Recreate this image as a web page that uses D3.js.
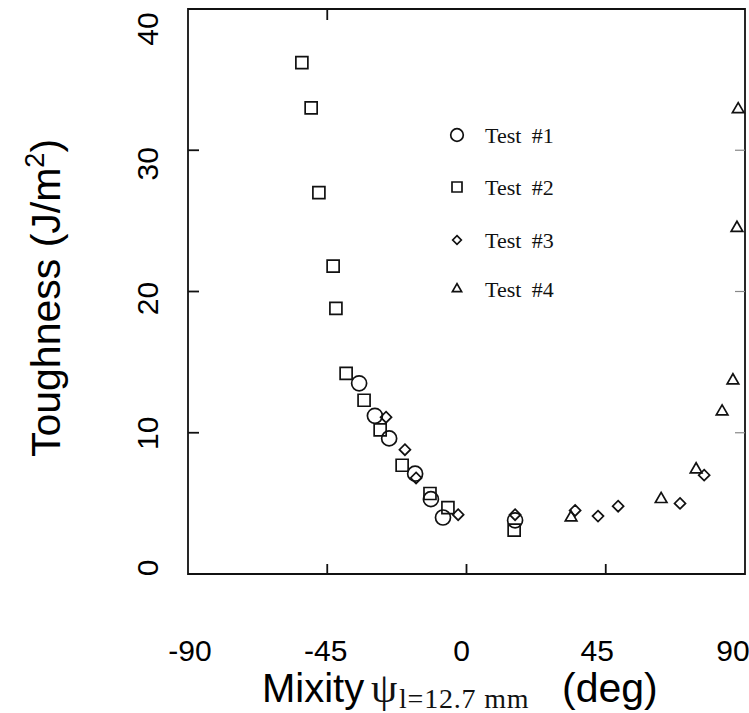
<!DOCTYPE html>
<html lang="en">
<head>
	<meta charset="utf-8">
	<title>Toughness vs mixity</title>
	<script src="https://d3js.org/d3.v7.min.js"></script>
	<style>
		body { margin: 0; background: #fff; }
		.mark { fill: none; stroke: #111; stroke-width: 1.7; }
		.sans { font-family: "Liberation Sans", Arial, sans-serif; fill: #000; }
		.serif { font-family: "Liberation Serif", "Times New Roman", serif; fill: #111; }
	</style>
</head>
<body>
	<script>
		var width = 749;
		var height = 713;

		// values
		var xTicks = [-90, -45, 0, 45, 90];
		var yTicks = [0, 10, 20, 30, 40];
		var testNames = ["Test #1", "Test #2", "Test #3", "Test #4"];
		var testShapes = ["circle", "square", "diamond", "triangle"];

		var test1X = [-34.7, -29.6, -25.0, -16.6, -11.5, -7.6, 15.7];
		var test1Y = [13.5, 11.2, 9.6, 7.1, 5.3, 4.0, 3.8];

		var test2X = [-53.2, -50.2, -47.7, -43.1, -42.2, -38.9, -33.1, -27.9, -20.8, -11.8, -6.0, 15.4];
		var test2Y = [36.2, 33.0, 27.0, 21.8, 18.8, 14.2, 12.3, 10.2, 7.7, 5.7, 4.7, 3.1];

		var test3X = [-26.0, -19.9, -16.3, -2.7, 15.7, 35.1, 42.5, 49.0, 69.0, 76.8];
		var test3Y = [11.1, 8.8, 6.8, 4.2, 4.2, 4.5, 4.1, 4.8, 5.0, 7.0];

		var test4X = [33.8, 62.9, 74.2, 82.6, 86.1, 87.4, 87.8];
		var test4Y = [4.0, 5.3, 7.4, 11.5, 13.7, 24.5, 32.9];

		var series = [
			{ x: test1X, y: test1Y, shape: testShapes[0] },
			{ x: test2X, y: test2Y, shape: testShapes[1] },
			{ x: test3X, y: test3Y, shape: testShapes[2] },
			{ x: test4X, y: test4Y, shape: testShapes[3] }
		];

		var svg = d3.select("body")
			.append("svg")
			.attr("width", width)
			.attr("height", height);

		// scales of the scanned plot frame
		var x = d3.scaleLinear().domain([-90, 90]).range([188, 745]);
		var y = d3.scaleLinear().domain([0, 40]).range([574, 9]);

		// the tick labels were typed on afterwards and sit a little off the frame
		var xLab = d3.scaleLinear().domain([-90, 90]).range([190, 733]);
		var yLab = d3.scaleLinear().domain([0, 40]).range([568, 29]);

		// frame
		var frame = svg.append("g")
			.attr("stroke", "#111")
			.attr("stroke-width", 1.8)
			.attr("fill", "none");
		frame.append("path")
			.attr("d", "M" + x(-90) + "," + y(40) + "H" + x(90) + "V" + y(0) + "H" + x(-90) + "Z");

		// inner ticks
		var inner = [10, 20, 30];
		frame.selectAll(".lt").data(inner).enter().append("line")
			.attr("x1", x(-90)).attr("x2", x(-90) + 11)
			.attr("y1", d => y(d)).attr("y2", d => y(d));
		frame.selectAll(".rt").data(inner).enter().append("line")
			.attr("stroke", "#888").attr("stroke-width", 1.2)
			.attr("x1", x(90)).attr("x2", x(90) - 10)
			.attr("y1", d => y(d)).attr("y2", d => y(d));
		frame.selectAll(".bt").data([-45, 0, 45]).enter().append("line")
			.attr("x1", d => x(d)).attr("x2", d => x(d))
			.attr("y1", y(0)).attr("y2", y(0) - 10);
		frame.selectAll(".tt").data([-45]).enter().append("line")
			.attr("x1", d => x(d)).attr("x2", d => x(d))
			.attr("y1", y(40)).attr("y2", y(40) + 11);

		// marker paths
		function shapePath(shape, s) {
			if (shape == "circle") return d3.symbol(d3.symbolCircle, Math.PI * s * s)();
			if (shape == "square") return d3.symbol(d3.symbolSquare, (2 * s) * (2 * s))();
			if (shape == "diamond") return "M0," + (-s) + "L" + s + ",0L0," + s + "L" + (-s) + ",0Z";
			var h = s * Math.sqrt(3);
			return "M0," + (-h * 2 / 3) + "L" + s + "," + (h / 3) + "L" + (-s) + "," + (h / 3) + "Z";
		}
		var markSize = { circle: 7.5, square: 6, diamond: 5.5, triangle: 5.8 };
		var legSize = { circle: 6.3, square: 5, diamond: 4.3, triangle: 4.6 };

		series.forEach(function (s) {
			svg.append("g").selectAll("path")
				.data(s.x.map((v, i) => [v, s.y[i]]))
				.enter()
				.append("path")
				.attr("class", "mark")
				.attr("transform", d => "translate(" + x(d[0]) + "," + y(d[1]) + ")")
				.attr("d", shapePath(s.shape, markSize[s.shape]));
		});

		// legend
		var legend = svg.append("g").attr("transform", "translate(457,135)");
		var rows = legend.selectAll("g").data(testNames).enter().append("g")
			.attr("transform", (d, i) => "translate(0," + [0, 52, 105, 154][i] + ")");
		rows.append("path")
			.attr("class", "mark")
			.attr("stroke-width", 1.4)
			.attr("d", (d, i) => shapePath(testShapes[i], legSize[testShapes[i]]));
		rows.append("text")
			.attr("class", "serif")
			.attr("x", 28).attr("y", 8)
			.attr("font-size", 22)
			.attr("word-spacing", 5)
			.text(d => d);

		// tick labels
		svg.append("g").selectAll("text").data(xTicks).enter().append("text")
			.attr("class", "sans")
			.attr("x", d => xLab(d)).attr("y", 661)
			.attr("text-anchor", "middle")
			.attr("font-size", 30)
			.text(d => d);
		svg.append("g").selectAll("text").data(yTicks).enter().append("text")
			.attr("class", "sans")
			.attr("transform", d => "translate(158," + yLab(d) + ") rotate(-90)")
			.attr("text-anchor", "middle")
			.attr("font-size", 30)
			.text(d => d);

		// axis titles
		var yt = svg.append("text")
			.attr("class", "sans")
			.attr("transform", "translate(60,298) rotate(-90)")
			.attr("text-anchor", "middle")
			.attr("font-size", 41);
		yt.append("tspan").text("Toughness (J/m");
		yt.append("tspan").attr("font-size", 27).attr("dy", -16).text("2");
		yt.append("tspan").attr("dy", 16).text(")");

		var xt = svg.append("text").attr("y", 702);
		xt.append("tspan").attr("class", "sans").attr("x", 262).attr("font-size", 40).text("Mixity");
		xt.append("tspan").attr("class", "serif").attr("x", 371).attr("font-size", 42).text("ψ");
		xt.append("tspan").attr("class", "serif").attr("x", 399).attr("dy", 6).attr("font-size", 28)
			.attr("letter-spacing", 0.8).text("l=12.7 mm");
		xt.append("tspan").attr("class", "sans").attr("x", 562).attr("dy", -6).attr("font-size", 41).text("(deg)");
	</script>
</body>
</html>
